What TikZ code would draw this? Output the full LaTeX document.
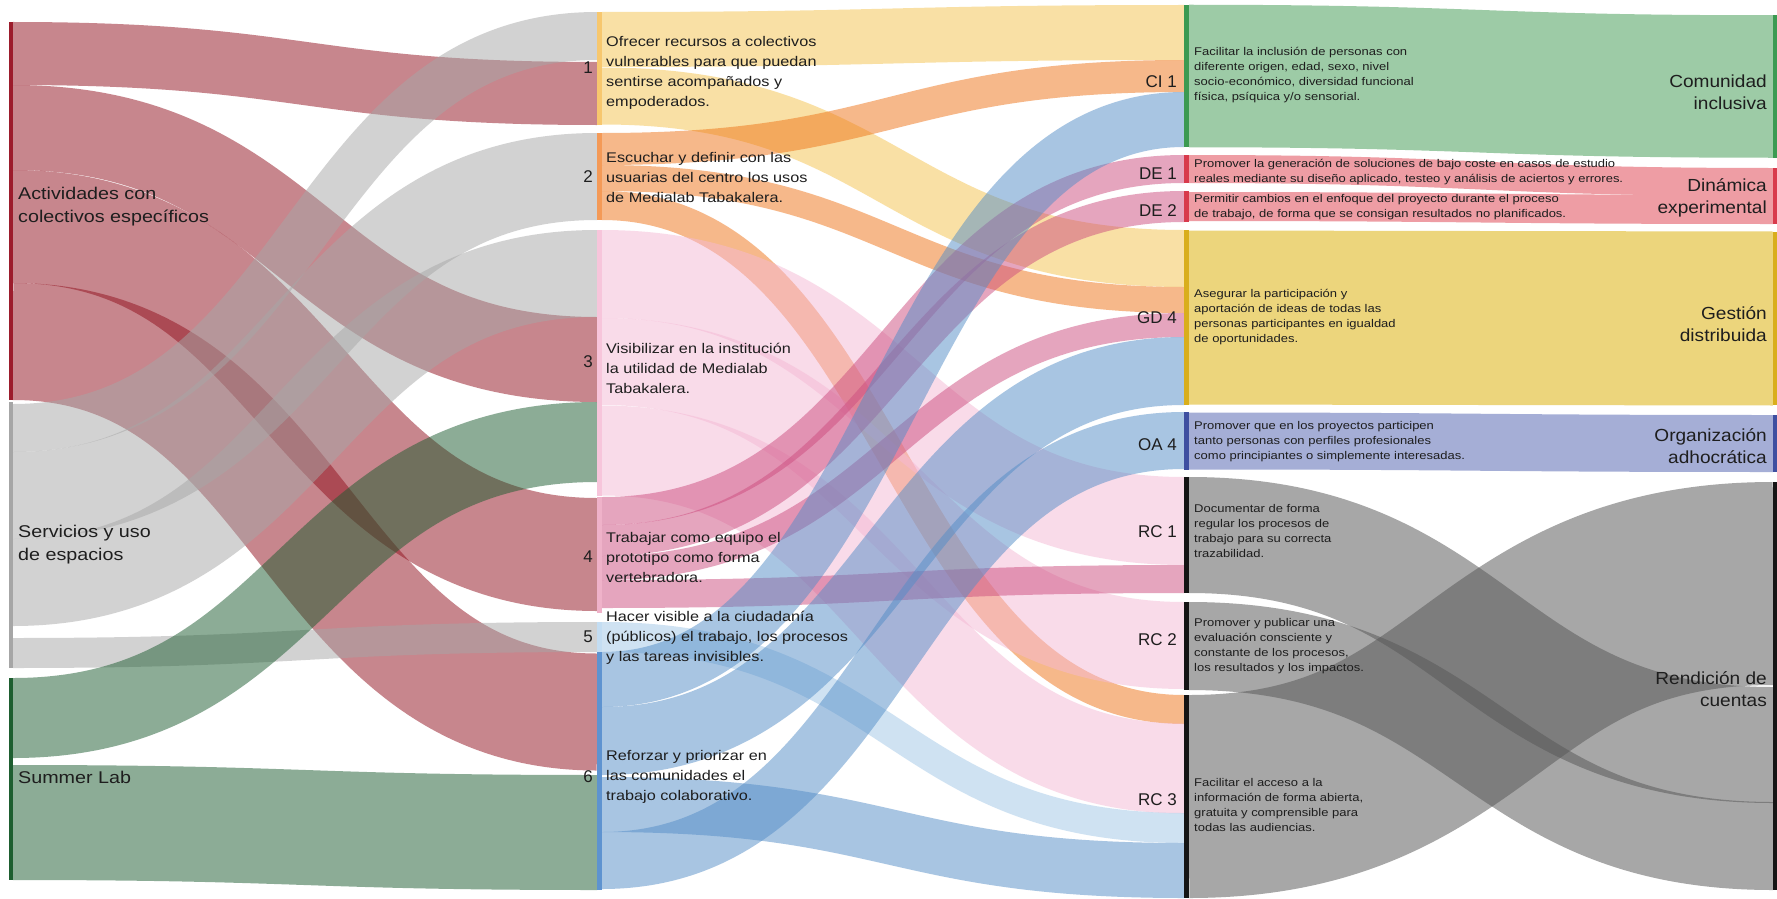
\documentclass[tikz,border=0pt]{standalone}
\usepackage{fontspec}
\setmainfont{Liberation Sans}
\newfontfamily\fA[FakeStretch=1.16]{Liberation Sans}
\newfontfamily\fC[FakeStretch=1.09]{Liberation Sans}
\definecolor{txt}{HTML}{1E1E1E}
% link base colours (drawn at 50% opacity)
\definecolor{actL}{HTML}{910F1D}
\definecolor{servL}{HTML}{A7A7A7}
\definecolor{sumL}{HTML}{1B5B2F}
\definecolor{yelL}{HTML}{F5C34D}
\definecolor{oraL}{HTML}{EF7317}
\definecolor{pinkL}{HTML}{F5B9D5}
\definecolor{mauL}{HTML}{CD4D7F}
\definecolor{lbluL}{HTML}{A1C7E7}
\definecolor{bluL}{HTML}{538DC7}
\definecolor{rcL}{HTML}{575757}
% opaque bands
\definecolor{ciF}{HTML}{9DCBA6}
\definecolor{deF}{HTML}{EE9DA4}
\definecolor{gdF}{HTML}{ECD57C}
\definecolor{oaF}{HTML}{A5AED6}
% bars
\definecolor{actB}{HTML}{9C1C2C}
\definecolor{servB}{HTML}{A6A6A6}
\definecolor{sumB}{HTML}{1E5E30}
\definecolor{b1B}{HTML}{F7C76E}
\definecolor{b2B}{HTML}{F49A57}
\definecolor{b3B}{HTML}{F7C5DB}
\definecolor{b4B}{HTML}{EFB2C9}
\definecolor{b5B}{HTML}{C4DDF2}
\definecolor{b6B}{HTML}{5E93D0}
\definecolor{ciB}{HTML}{3C9A52}
\definecolor{deB}{HTML}{D83A4C}
\definecolor{gdB}{HTML}{D9AE1C}
\definecolor{oaB}{HTML}{3E4FA0}
\definecolor{rcB}{HTML}{151515}
% a sankey link: name, x0, y0, x1, y1, width, style
\newcommand{\sflow}[7]{%
  \coordinate (#1-s) at (#2,#3);
  \coordinate (#1-t) at (#4,#5);
  \draw[#7, line width=#6pt, line cap=butt] (#1-s) .. controls +({(#4-#2)/2},0) and +({(#2-#4)/2},0) .. (#1-t);
}
% a node bar: name, x, top, bottom, colour, width
\newcommand{\sbar}[6]{%
  \node[barnode, fill=#5, minimum width=#6pt, minimum height={#4-#3}, anchor=north] (#1) at (#2,#3) {};
}
\tikzset{
  barnode/.style={rectangle, inner sep=0pt, outer sep=0pt, draw=none},
  act/.style={draw=actL, draw opacity=0.5},
  serv/.style={draw=servL, draw opacity=0.5},
  summ/.style={draw=sumL, draw opacity=0.5},
  yel/.style={draw=yelL, draw opacity=0.5},
  ora/.style={draw=oraL, draw opacity=0.5},
  pnk/.style={draw=pinkL, draw opacity=0.5},
  mau/.style={draw=mauL, draw opacity=0.5},
  lblu/.style={draw=lbluL, draw opacity=0.5},
  blu/.style={draw=bluL, draw opacity=0.5},
  rcg/.style={draw=rcL, draw opacity=0.52},
  bigtxt/.style={inner sep=0pt, text=txt, font=\fontsize{17}{23}\selectfont},
  lefttxt/.style={inner sep=0pt, text=txt, font=\fA\fontsize{17}{23}\selectfont, align=left, anchor=west},
  midtxt/.style={inner sep=0pt, text=txt, font=\fA\fontsize{14}{20}\selectfont, align=left, anchor=west},
  smalltxt/.style={inner sep=0pt, text=txt, font=\fA\fontsize{11.2}{15}\selectfont, align=left, anchor=west},
  cattxt/.style={inner sep=0pt, text=txt, font=\fC\fontsize{17.5}{22}\selectfont, align=right, anchor=east},
}
\begin{document}
\begin{tikzpicture}[x=1pt,y=-1pt]
\fill[white] (0,0) rectangle (1777,899);
\useasboundingbox (0,0) rectangle (1777,899);

% ---------- C -> D bands ----------
\sflow{ci}{1189}{76}{1773}{86.5}{142.5}{draw=ciF}
\sflow{de1}{1189}{169}{1773}{182}{28}{draw=deF}
\sflow{de2}{1189}{206.5}{1773}{209.5}{29}{draw=deF}
\sflow{gd}{1189}{317.5}{1773}{318.5}{174}{draw=gdF}
\sflow{oa}{1189}{441}{1773}{443.5}{57}{draw=oaF}
\sflow{rc1}{1189}{535}{1773}{745}{116}{rcg}
\sflow{rc2}{1189}{646}{1773}{846}{88}{rcg}
\sflow{rc3}{1189}{796.5}{1773}{583.5}{203}{rcg}

% ---------- A -> B links ----------
\sflow{a1}{13}{53.5}{597}{93.5}{63}{act}
\sflow{a3}{13}{127.5}{597}{359.5}{85}{act}
\sflow{a4}{13}{226.5}{597}{554.5}{113}{act}
\sflow{a6}{13}{341.5}{597}{712}{117}{act}
\sflow{s1}{13}{428}{597}{36}{48}{serv}
\sflow{s2}{13}{495.5}{597}{176.5}{87}{serv}
\sflow{s3}{13}{582.5}{597}{273.5}{87}{serv}
\sflow{s5}{13}{653}{597}{637}{30}{serv}
\sflow{g3}{13}{718}{597}{442}{80}{summ}
\sflow{g6}{13}{822.5}{597}{832.5}{115}{summ}

% ---------- B -> C links ----------
\sflow{b1c}{602}{39.5}{1184}{32.5}{55}{yel}
\sflow{b1g}{602}{96}{1184}{258.5}{57}{yel}
\sflow{b2c}{602}{149}{1184}{76}{32}{ora}
\sflow{b2g}{602}{178}{1184}{300}{26}{ora}
\sflow{b2r}{602}{205.5}{1184}{709.5}{29}{ora}
\sflow{b3r1}{602}{274}{1184}{521}{88}{pnk}
\sflow{b3r2}{602}{361.5}{1184}{645.5}{87}{pnk}
\sflow{b3r3}{602}{450.5}{1184}{768.5}{90}{pnk}
\sflow{b4d1}{602}{511}{1184}{169}{28}{mau}
\sflow{b4d2}{602}{540.5}{1184}{206.5}{31}{mau}
\sflow{b4g}{602}{568}{1184}{325}{24}{mau}
\sflow{b4r1}{602}{594}{1184}{579}{28}{mau}
\sflow{b5r}{602}{637}{1184}{828}{30}{lblu}
\sflow{b6c}{602}{679.5}{1184}{119.5}{55}{blu}
\sflow{b6g}{602}{741}{1184}{371}{68}{blu}
\sflow{b6r}{602}{804.5}{1184}{870.5}{55}{blu}
\sflow{b6o}{602}{860.5}{1184}{440.5}{57}{blu}

% ---------- bars ----------
\sbar{act}{11}{22}{400}{actB}{4}
\sbar{serv}{11}{402}{668}{servB}{4}
\sbar{summ}{11}{678}{880}{sumB}{4}
\sbar{o1}{599.5}{12}{125}{b1B}{5}
\sbar{o2}{599.5}{133}{220}{b2B}{5}
\sbar{o3}{599.5}{230}{496}{b3B}{5}
\sbar{o4}{599.5}{497}{613}{b4B}{5}
\sbar{o5}{599.5}{622}{652}{b5B}{5}
\sbar{o6}{599.5}{652}{890}{b6B}{5}
\sbar{ci1}{1186.5}{5}{147}{ciB}{5}
\sbar{de1b}{1186.5}{155}{183}{deB}{5}
\sbar{de2b}{1186.5}{191}{222}{deB}{5}
\sbar{gd4}{1186.5}{230}{405}{gdB}{5}
\sbar{oa4}{1186.5}{412}{470}{oaB}{5}
\sbar{rc1b}{1186.5}{477}{593}{rcB}{5}
\sbar{rc2b}{1186.5}{602}{690}{rcB}{5}
\sbar{rc3b}{1186.5}{695}{898}{rcB}{5}
\sbar{cir}{1775}{15}{158}{ciB}{4}
\sbar{der}{1775}{168}{224}{deB}{4}
\sbar{gdr}{1775}{232}{405}{gdB}{4}
\sbar{oar}{1775}{415}{472}{oaB}{4}
\sbar{rcr}{1775}{482}{890}{rcB}{4}

% ---------- left labels ----------
\node[lefttxt] (lact) at (18,206.5) {Actividades con\\colectivos específicos};
\node[lefttxt] (lserv) at (18,544.5) {Servicios y uso\\de espacios};
\node[lefttxt] (lsumm) at (18,777) {Summer Lab};

% ---------- objective numbers and texts ----------
\node[bigtxt, anchor=east] (n1) at (593,68) {1};
\node[bigtxt, anchor=east] (n2) at (593,177) {2};
\node[bigtxt, anchor=east] (n3) at (593,362) {3};
\node[bigtxt, anchor=east] (n4) at (593,557) {4};
\node[bigtxt, anchor=east] (n5) at (593,637) {5};
\node[bigtxt, anchor=east] (n6) at (593,777) {6};
\node[midtxt] (t1) at (606,72.5) {Ofrecer recursos a colectivos\\vulnerables para que puedan\\sentirse acompañados y\\empoderados.};
\node[midtxt] (t2) at (606,177.5) {Escuchar y definir con las\\usuarias del centro los usos\\de Medialab Tabakalera.};
\node[midtxt] (t3) at (606,368) {Visibilizar en la institución\\la utilidad de Medialab\\Tabakalera.};
\node[midtxt] (t4) at (606,557.5) {Trabajar como equipo el\\prototipo como forma\\vertebradora.};
\node[midtxt] (t5) at (606,637.5) {Hacer visible a la ciudadanía\\(públicos) el trabajo, los procesos\\y las tareas invisibles.};
\node[midtxt] (t6) at (606,776.5) {Reforzar y priorizar en\\las comunidades el\\trabajo colaborativo.};

% ---------- principle codes ----------
\node[bigtxt, anchor=east] (kci1) at (1177,82) {CI 1};
\node[bigtxt, anchor=east] (kde1) at (1177,174) {DE 1};
\node[bigtxt, anchor=east] (kde2) at (1177,211) {DE 2};
\node[bigtxt, anchor=east] (kgd4) at (1177,318) {GD 4};
\node[bigtxt, anchor=east] (koa4) at (1177,445) {OA 4};
\node[bigtxt, anchor=east] (krc1) at (1177,532) {RC 1};
\node[bigtxt, anchor=east] (krc2) at (1177,640) {RC 2};
\node[bigtxt, anchor=east] (krc3) at (1177,800) {RC 3};

% ---------- principle texts ----------
\node[smalltxt] (dci) at (1194,75.5) {Facilitar la inclusión de personas con\\diferente origen, edad, sexo, nivel\\socio-económico, diversidad funcional\\física, psíquica y/o sensorial.};
\node[smalltxt] (dde1) at (1194,172.5) {Promover la generación de soluciones de bajo coste en casos de estudio\\reales mediante su diseño aplicado, testeo y análisis de aciertos y errores.};
\node[smalltxt] (dde2) at (1194,207.5) {Permitir cambios en el enfoque del proyecto durante el proceso\\de trabajo, de forma que se consigan resultados no planificados.};
\node[smalltxt] (dgd) at (1194,317.5) {Asegurar la participación y\\aportación de ideas de todas las\\personas participantes en igualdad\\de oportunidades.};
\node[smalltxt] (doa) at (1194,442) {Promover que en los proyectos participen\\tanto personas con perfiles profesionales\\como principiantes o simplemente interesadas.};
\node[smalltxt] (drc1) at (1194,530.5) {Documentar de forma\\regular los procesos de\\trabajo para su correcta\\trazabilidad.};
\node[smalltxt] (drc2) at (1194,646) {Promover y publicar una\\evaluación consciente y\\constante de los procesos,\\los resultados y los impactos.};
\node[smalltxt] (drc3) at (1194,804.5) {Facilitar el acceso a la\\información de forma abierta,\\gratuita y comprensible para\\todas las audiencias.};

% ---------- category labels ----------
\node[cattxt] (cci) at (1767,92.5) {Comunidad\\inclusiva};
\node[cattxt] (cde) at (1767,197.5) {Dinámica\\experimental};
\node[cattxt] (cgd) at (1767,324) {Gestión\\distribuida};
\node[cattxt] (coa) at (1767,446) {Organización\\adhocrática};
\node[cattxt] (crc) at (1767,689) {Rendición de\\cuentas};
\end{tikzpicture}
\end{document}
